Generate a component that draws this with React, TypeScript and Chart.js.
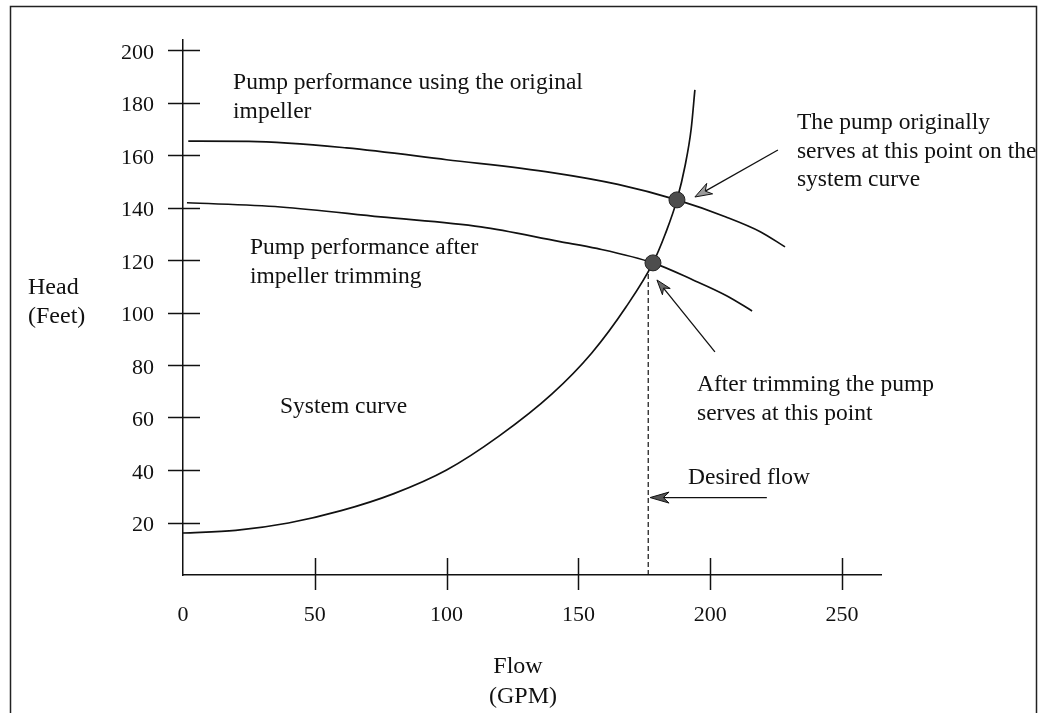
import React, { useEffect, useRef } from "react";
import { Chart, registerables } from "chart.js";

Chart.register(...registerables);

// ---------- data ----------
const flowTicks = [0, 50, 100, 150, 200, 250];
const headTicks = [20, 40, 60, 80, 100, 120, 140, 160, 180, 200];

const systemFlow = [0, 20, 40, 60, 80, 100, 120, 140, 155, 168, 178.3, 183, 187.4, 190.5, 192.8, 194.2];
const systemHead = [16, 17, 19.8, 24.5, 31, 40, 53, 69, 84.5, 102, 118.9, 130, 142.9, 156, 170, 184.8];

const originalFlow = [2, 25, 62, 100, 140, 165, 187.4, 206, 219, 228.4];
const originalHead = [165.3, 165.2, 162.7, 158.2, 153.3, 148.8, 142.9, 136.4, 130.8, 125];

const trimmedFlow = [1.5, 37, 75, 113, 143, 157, 178.3, 193.5, 206.4, 215.9];
const trimmedHead = [141.8, 140.2, 136.4, 132.6, 127, 124.4, 118.9, 112.4, 106.3, 100.6];

const operatingFlow = [187.4, 178.3];
const operatingHead = [142.9, 118.9];

const desiredFlowValue = [176.5, 176.5];
const desiredFlowHead = [0, 115];

// annotation texts (anchored in data units: flow, head)
const noteOriginal = ["Pump performance using the original", "impeller"];
const noteTrimmed = ["Pump performance after", "impeller trimming"];
const noteSystem = ["System curve"];
const noteOrigPoint = ["The pump originally", "serves at this point on the", "system curve"];
const noteTrimPoint = ["After trimming the pump", "serves at this point"];
const noteDesired = ["Desired flow"];

const noteAnchors = [
  { lines: noteOriginal, flow: 19.0, head: 187.4 },
  { lines: noteTrimmed, flow: 25.4, head: 124.6 },
  { lines: noteSystem, flow: 36.8, head: 64.0 },
  { lines: noteOrigPoint, flow: 232.9, head: 172.2 },
  { lines: noteTrimPoint, flow: 195.0, head: 72.4 },
  { lines: noteDesired, flow: 191.6, head: 37.0 },
];

// arrows (from -> to, in data units)
const arrowFromFlow = [225.7, 201.8, 221.5];
const arrowFromHead = [161.9, 85.0, 29.5];
const arrowToFlow = [194.2, 179.8, 177.2];
const arrowToHead = [144.0, 112.4, 29.5];

const yTitle = ["Head", "(Feet)"];
const xTitle = ["Flow", "(GPM)"];

// ---------- helpers ----------
const INK = "#111";
const SERIF = "'Liberation Serif', 'Times New Roman', serif";

const pts = (xs: number[], ys: number[]) => xs.map((x, i) => ({ x, y: ys[i] }));

function drawArrow(ctx: CanvasRenderingContext2D, x1: number, y1: number, x2: number, y2: number, fill: string, len: number, half: number) {
  const ang = Math.atan2(y2 - y1, x2 - x1);
  ctx.save();
  ctx.strokeStyle = INK;
  ctx.lineWidth = 1.3;
  ctx.beginPath();
  ctx.moveTo(x1, y1);
  ctx.lineTo(x2 - Math.cos(ang) * len * 0.7, y2 - Math.sin(ang) * len * 0.7);
  ctx.stroke();
  const bx = x2 - Math.cos(ang) * len;
  const by = y2 - Math.sin(ang) * len;
  const nx = -Math.sin(ang) * half;
  const ny = Math.cos(ang) * half;
  ctx.beginPath();
  ctx.moveTo(x2, y2);
  ctx.lineTo(bx + nx, by + ny);
  ctx.lineTo(x2 - Math.cos(ang) * len * 0.7, y2 - Math.sin(ang) * len * 0.7);
  ctx.lineTo(bx - nx, by - ny);
  ctx.closePath();
  ctx.fillStyle = fill;
  ctx.fill();
  ctx.lineWidth = 1;
  ctx.stroke();
  ctx.restore();
}

const overlayPlugin = {
  id: "overlay",
  afterDraw(chart: any) {
    const ctx: CanvasRenderingContext2D = chart.ctx;
    const xs = chart.scales.x;
    const ys = chart.scales.y;
    const area = chart.chartArea;

    ctx.save();
    // outer frame
    ctx.strokeStyle = "#222";
    ctx.lineWidth = 1.5;
    ctx.beginPath();
    ctx.moveTo(10.5, 730);
    ctx.lineTo(10.5, 6.5);
    ctx.lineTo(1036.5, 6.5);
    ctx.lineTo(1036.5, 730);
    ctx.stroke();

    // crossing tick marks
    ctx.strokeStyle = INK;
    ctx.lineWidth = 1.5;
    headTicks.forEach((v) => {
      const py = Math.round(ys.getPixelForValue(v)) + 0.5;
      ctx.beginPath();
      ctx.moveTo(area.left - 15, py);
      ctx.lineTo(area.left + 17, py);
      ctx.stroke();
    });
    flowTicks.forEach((v) => {
      if (v === 0) return;
      const px = Math.round(xs.getPixelForValue(v)) + 0.5;
      ctx.beginPath();
      ctx.moveTo(px, area.bottom - 17);
      ctx.lineTo(px, area.bottom + 15);
      ctx.stroke();
    });

    // axis titles
    ctx.fillStyle = INK;
    ctx.font = `24px ${SERIF}`;
    ctx.textBaseline = "middle";
    ctx.textAlign = "left";
    ctx.fillText(yTitle[0], 28, 288);
    ctx.fillText(yTitle[1], 28, 317);
    ctx.textAlign = "center";
    ctx.fillText(xTitle[0], 518, 667);
    ctx.fillText(xTitle[1], 523, 697);

    // annotation texts
    ctx.font = `23.5px ${SERIF}`;
    ctx.textAlign = "left";
    noteAnchors.forEach((n) => {
      const px = xs.getPixelForValue(n.flow);
      const py = ys.getPixelForValue(n.head);
      n.lines.forEach((line, i) => ctx.fillText(line, px, py + i * 28.5));
    });

    // arrows
    const fills = ["#9a9a9a", "#6a6a6a", "#555"];
    const lens = [17, 15, 19];
    const halves = [6, 5, 5.5];
    arrowFromFlow.forEach((f, i) => {
      drawArrow(
        ctx,
        xs.getPixelForValue(f),
        ys.getPixelForValue(arrowFromHead[i]),
        xs.getPixelForValue(arrowToFlow[i]),
        ys.getPixelForValue(arrowToHead[i]),
        fills[i],
        lens[i],
        halves[i]
      );
    });
    ctx.restore();
  },
};

export default function App() {
  const canvasRef = useRef<HTMLCanvasElement | null>(null);

  useEffect(() => {
    const canvas = canvasRef.current;
    if (!canvas) return;
    const lineStyle = {
      borderColor: INK,
      borderWidth: 1.7,
      pointRadius: 0,
      fill: false,
      cubicInterpolationMode: "monotone" as const,
    };
    const chart = new Chart(canvas, {
      type: "line",
      data: {
        datasets: [
          {
            label: "Operating points",
            data: pts(operatingFlow, operatingHead),
            showLine: false,
            pointRadius: 8,
            pointBackgroundColor: "#4d4d4d",
            pointBorderColor: "#222",
            pointBorderWidth: 1,
            borderColor: "#222",
          },
          { label: "Original impeller", data: pts(originalFlow, originalHead), ...lineStyle },
          { label: "Trimmed impeller", data: pts(trimmedFlow, trimmedHead), ...lineStyle },
          { label: "System curve", data: pts(systemFlow, systemHead), ...lineStyle },
          {
            label: "Desired flow",
            data: pts(desiredFlowValue, desiredFlowHead),
            borderColor: INK,
            borderWidth: 1.2,
            borderDash: [5, 3],
            pointRadius: 0,
            fill: false,
          },
        ],
      },
      options: {
        responsive: false,
        animation: false,
        events: [],
        layout: { padding: { left: 0, top: 39.5, right: 157.5, bottom: 0 } },
        plugins: {
          legend: { display: false },
          tooltip: { enabled: false },
          title: { display: false },
        },
        scales: {
          x: {
            type: "linear",
            min: 0,
            max: 265,
            afterBuildTicks: (s: any) => {
              s.ticks = flowTicks.map((v) => ({ value: v }));
            },
            afterFit: (s: any) => {
              s.height = 138;
              s.paddingLeft = 0;
              s.paddingRight = 0;
            },
            grid: { display: false, drawTicks: false },
            border: { display: true, color: INK, width: 1.5 },
            ticks: {
              padding: 27,
              color: INK,
              font: { family: SERIF, size: 22 },
              maxRotation: 0,
              autoSkip: false,
              callback: (v: any) => String(v),
            },
          },
          y: {
            type: "linear",
            min: 0,
            max: 204,
            afterBuildTicks: (s: any) => {
              s.ticks = headTicks.map((v) => ({ value: v }));
            },
            afterFit: (s: any) => {
              s.width = 183;
              s.paddingTop = 0;
              s.paddingBottom = 0;
            },
            grid: { display: false, drawTicks: false },
            border: { display: true, color: INK, width: 1.5 },
            ticks: {
              padding: 29,
              labelOffset: 3,
              color: INK,
              font: { family: SERIF, size: 22 },
              autoSkip: false,
              callback: (v: any) => String(v),
            },
          },
        },
      },
      plugins: [overlayPlugin],
    });
    return () => chart.destroy();
  }, []);

  return (
    <div style={{ position: "fixed", left: 0, top: 0, width: 1039, height: 713, background: "#fff" }}>
      <canvas ref={canvasRef} width={1039} height={713} style={{ display: "block" }} />
    </div>
  );
}
